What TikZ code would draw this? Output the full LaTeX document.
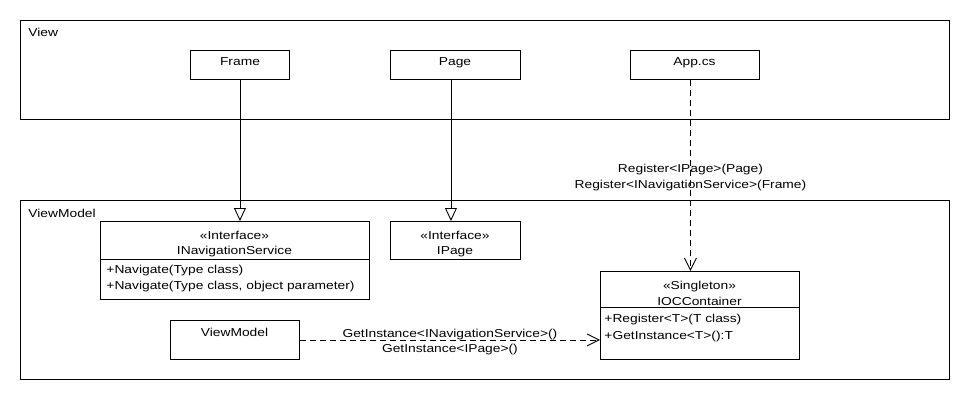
\documentclass[tikz,border=0pt]{standalone}
\usepackage{fontspec}
\setmainfont[FakeStretch=1.2]{Liberation Sans}
\usetikzlibrary{positioning}
\usetikzlibrary{arrows.meta}

\begin{document}
\begin{tikzpicture}[x=1pt, y=-1pt, line width=0.9pt, font=\fontsize{11.5}{15.5}\selectfont]
    \tikzset{every node/.style={inner sep=0pt}}
    \tikzset{kasten/.style={draw, rectangle, anchor=north west}}
    \tikzset{zeile/.style={anchor=base}}
    \tikzset{methode/.style={anchor=base west}}
    \tikzset{realisiert/.style={-{Triangle[open, length=13pt, width=12pt]}}}
    \tikzset{abhaengig/.style={-{Straight Barb[length=12pt, width=12pt]}, dash pattern=on 6pt off 4pt}}

    \useasboundingbox (0,0) rectangle (970,404);

    % Paket View
    \node[kasten, minimum width=929, minimum height=99] (view) at (20,20) {};
    \node[methode] (viewtitel) at (28,37) {View};

    \node[kasten, minimum width=99, minimum height=29] (frame) at (190,50) {};
    \node[zeile] (frametext) at (240,66) {Frame};
    \node[kasten, minimum width=130, minimum height=29] (page) at (390,50) {};
    \node[zeile] (pagetext) at (455,66) {Page};
    \node[kasten, minimum width=129, minimum height=29] (app) at (630,50) {};
    \node[zeile] (apptext) at (694.5,66) {App.cs};

    % Paket ViewModel
    \node[kasten, minimum width=929, minimum height=179] (vmpaket) at (20,200) {};
    \node[methode] (vmtitel) at (28,217) {ViewModel};

    % Interface INavigationService
    \node[kasten, minimum width=269, minimum height=78] (inav) at (100,221) {};
    \node[zeile] (inavst) at (234.5,239) {«Interface»};
    \node[zeile] (inavname) at (234.5,254) {INavigationService};
    \draw ([yshift=-38pt]inav.north west) -- ([yshift=-38pt]inav.north east);
    \foreach \m [count=\i] in {{+Navigate(Type class)}, {+Navigate(Type class, object parameter)}} {
        \node[methode] (inavm\i) at (106,257+16*\i) {\m};
    }

    % Interface IPage
    \node[kasten, minimum width=130, minimum height=38] (ipage) at (390,221) {};
    \node[zeile] (ipagest) at (455,239) {«Interface»};
    \node[zeile] (ipagename) at (455,254) {IPage};

    % Klasse ViewModel
    \node[kasten, minimum width=129, minimum height=39] (vm) at (170,320) {};
    \node[zeile] (vmtext) at (234.5,336) {ViewModel};

    % Singleton IOCContainer
    \node[kasten, minimum width=199, minimum height=88] (ioc) at (600,271) {};
    \node[zeile] (iocst) at (699.5,289) {«Singleton»};
    \node[zeile] (iocname) at (699.5,305) {IOCContainer};
    \draw ([yshift=-36pt]ioc.north west) -- ([yshift=-36pt]ioc.north east);
    \foreach \m [count=\i] in {{+Register<T>(T class)}, {+GetInstance<T>():T}} {
        \node[methode] (iocm\i) at (604,305+17*\i) {\m};
    }

    % Realisierungen
    \coordinate (pagefuss) at ([xshift=-4.5pt]page.south);
    \draw[realisiert] (frame.south) -- (frame.south |- inav.north);
    \draw[realisiert] (pagefuss) -- (pagefuss |- ipage.north);

    % Abhaengigkeiten (gestrichelt)
    \coordinate (appfuss) at ([xshift=-4.5pt]app.south);
    \draw[abhaengig] (appfuss) -- (appfuss |- ioc.north)
        node[midway, align=center, yshift=-2pt] {Register<IPage>(Page)\\Register<INavigationService>(Frame)};
    \draw[abhaengig] (vm.east) -- (vm.east -| ioc.west)
        node[midway, align=center, yshift=-2pt] {GetInstance<INavigationService>()\\GetInstance<IPage>()};

\end{tikzpicture}
\end{document}
